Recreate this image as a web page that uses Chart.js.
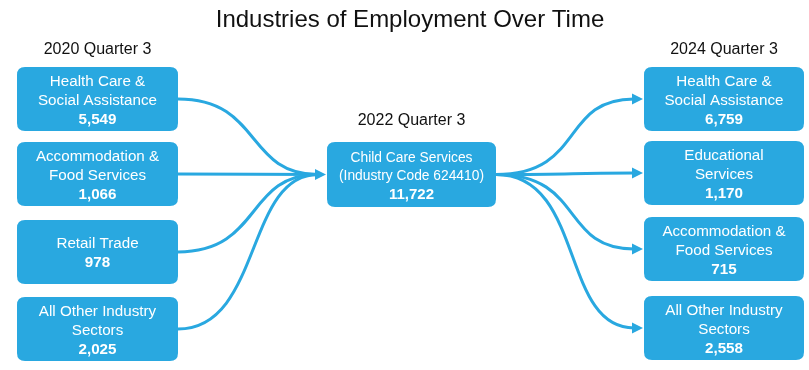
<!DOCTYPE html>
<html>
<head>
<meta charset="utf-8">
<script src="https://cdn.jsdelivr.net/npm/chart.js@4"></script>
<style>
  body { margin: 0; background: #fff; }
  #wrap { width: 809px; height: 370px; }
</style>
</head>
<body>
<div id="wrap"><canvas id="flow-chart"></canvas></div>
<script>
// periods shown above each column
var periods = ["2020 Quarter 3", "2022 Quarter 3", "2024 Quarter 3"];

// industries before child care
var fromLabels = [["Health Care &", "Social Assistance"], ["Accommodation &", "Food Services"], ["Retail Trade"], ["All Other Industry", "Sectors"]];
var fromValues = [5549, 1066, 978, 2025];

// child care itself
var hubLabel = ["Child Care Services", "(Industry Code 624410)"];
var hubValue = 11722;

// industries after child care
var toLabels = [["Health Care &", "Social Assistance"], ["Educational", "Services"], ["Accommodation &", "Food Services"], ["All Other Industry", "Sectors"]];
var toValues = [6759, 1170, 715, 2558];

var title = "Industries of Employment Over Time";

// box placement in axis units (axes run 0..809 and 0..370)
var boxColor = "#29a8e0";
var leftCol = { x0: 17, x1: 178, tops: [67, 142, 220, 297], h: 64 };
var hubBox = { x0: 327, x1: 496, top: 142, h: 65 };
var rightCol = { x0: 644, x1: 804, tops: [67, 141, 217, 296], h: 64 };

var sans = "'Liberation Sans', Arial, sans-serif";

function fmt(v) { return v.toLocaleString("en-US"); }

function roundBox(ctx, x, y, w, h, r) {
  ctx.beginPath();
  ctx.moveTo(x + r, y);
  ctx.lineTo(x + w - r, y);
  ctx.quadraticCurveTo(x + w, y, x + w, y + r);
  ctx.lineTo(x + w, y + h - r);
  ctx.quadraticCurveTo(x + w, y + h, x + w - r, y + h);
  ctx.lineTo(x + r, y + h);
  ctx.quadraticCurveTo(x, y + h, x, y + h - r);
  ctx.lineTo(x, y + r);
  ctx.quadraticCurveTo(x, y, x + r, y);
  ctx.closePath();
}

function arrowHead(ctx, x, y) {
  ctx.beginPath();
  ctx.moveTo(x, y);
  ctx.lineTo(x - 11, y - 5.5);
  ctx.lineTo(x - 11, y + 5.5);
  ctx.closePath();
  ctx.fill();
}

var flowPlugin = {
  id: "flow",
  afterDraw: function (chart) {
    var ctx = chart.ctx;
    var sx = chart.scales.x, sy = chart.scales.y;
    var X = function (v) { return sx.getPixelForValue(v); };
    var Y = function (v) { return sy.getPixelForValue(v); };

    ctx.save();

    // title and column headings
    ctx.fillStyle = "#111";
    ctx.textAlign = "center";
    ctx.textBaseline = "middle";
    ctx.font = "24px " + sans;
    ctx.fillText(title, X(410), Y(20));
    ctx.font = "16px " + sans;
    ctx.fillText(periods[0], X((leftCol.x0 + leftCol.x1) / 2), Y(50));
    ctx.fillText(periods[1], X((hubBox.x0 + hubBox.x1) / 2), Y(121));
    ctx.fillText(periods[2], X((rightCol.x0 + rightCol.x1) / 2), Y(50));

    // connectors
    ctx.strokeStyle = boxColor;
    ctx.fillStyle = boxColor;
    ctx.lineWidth = 3;
    ctx.lineCap = "round";
    var hubMid = hubBox.top + hubBox.h / 2;
    var inX = hubBox.x0 - 1;
    fromValues.forEach(function (v, i) {
      var sy0 = leftCol.tops[i] + leftCol.h / 2;
      ctx.beginPath();
      ctx.moveTo(X(leftCol.x1), Y(sy0));
      ctx.bezierCurveTo(X(262), Y(sy0), X(245), Y(hubMid), X(inX - 8), Y(hubMid));
      ctx.stroke();
    });
    arrowHead(ctx, X(inX), Y(hubMid));

    toValues.forEach(function (v, i) {
      var ty = rightCol.tops[i] + rightCol.h / 2;
      ctx.beginPath();
      ctx.moveTo(X(hubBox.x1), Y(hubMid));
      ctx.bezierCurveTo(X(585), Y(hubMid), X(560), Y(ty), X(rightCol.x0 - 10), Y(ty));
      ctx.stroke();
      arrowHead(ctx, X(rightCol.x0 - 1), Y(ty));
    });

    // boxes with labels and counts
    function drawBox(x0, x1, top, h, lines, value, size, valueSize, gap) {
      ctx.fillStyle = boxColor;
      roundBox(ctx, X(x0), Y(top), X(x1) - X(x0), Y(top + h) - Y(top), 8);
      ctx.fill();
      ctx.fillStyle = "#fff";
      var all = lines.concat([fmt(value)]);
      var mid = top + h / 2 + 1.5;
      var start = mid - gap * (all.length - 1) / 2;
      all.forEach(function (t, k) {
        var last = k === all.length - 1;
        ctx.font = last ? "bold " + valueSize + "px " + sans : size + "px " + sans;
        ctx.fillText(t, X((x0 + x1) / 2), Y(start + k * gap + (last ? 0.5 : 0)));
      });
    }

    fromValues.forEach(function (v, i) {
      drawBox(leftCol.x0, leftCol.x1, leftCol.tops[i], leftCol.h, fromLabels[i], v, 15.2, 15.2, 18.5);
    });
    drawBox(hubBox.x0, hubBox.x1, hubBox.top, hubBox.h, hubLabel, hubValue, 13.8, 15, 18);
    toValues.forEach(function (v, i) {
      drawBox(rightCol.x0, rightCol.x1, rightCol.tops[i], rightCol.h, toLabels[i], v, 15.2, 15.2, 18.5);
    });

    ctx.restore();
  }
};

new Chart(document.getElementById("flow-chart"), {
  type: "scatter",
  data: { datasets: [] },
  options: {
    responsive: true,
    maintainAspectRatio: false,
    animation: false,
    layout: { padding: 0 },
    plugins: { legend: { display: false }, tooltip: { enabled: false }, title: { display: false } },
    scales: {
      x: { type: "linear", min: 0, max: 809, display: false },
      y: { type: "linear", min: 0, max: 370, reverse: true, display: false }
    }
  },
  plugins: [flowPlugin]
});
</script>
</body>
</html>
